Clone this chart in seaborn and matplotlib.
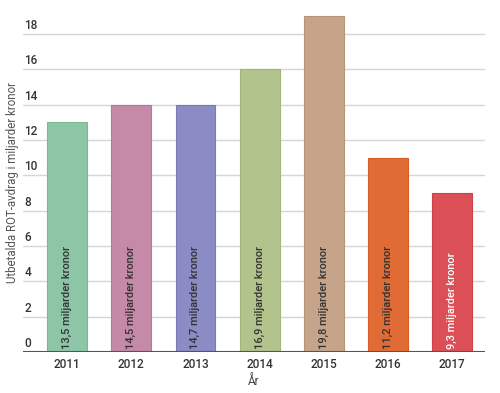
import matplotlib
matplotlib.use("Agg")
import matplotlib.pyplot as plt
import matplotlib.transforms as mtransforms
import seaborn as sns
import pandas as pd

years = ["2011", "2012", "2013", "2014", "2015", "2016", "2017"]
values = [13, 14, 14, 16, 19, 11, 9]
bar_labels = ["13,5 miljarder kronor", "14,5 miljarder kronor", "14,7 miljarder kronor",
              "16,9 miljarder kronor", "19,8 miljarder kronor", "11,2 miljarder kronor",
              "9,3 miljarder kronor"]
colors = ["#8dc6a6", "#c48aa8", "#8b8bc5", "#b2c48c", "#c5a48a", "#e06b35", "#db4f56"]
edge_colors = ["#7ab894", "#b57898", "#7a7ab8", "#a2b57a", "#b59478", "#d85c25", "#d04048"]
label_colors = ["#333333"] * 6 + ["#ffffff"]
yticks = [0, 2, 4, 6, 8, 10, 12, 14, 16, 18]

sns.set_style("white")
plt.rcParams["font.family"] = ["Roboto", "DejaVu Sans"]

df = pd.DataFrame({"year": years, "value": values})

fig = plt.figure(figsize=(5, 3.93), dpi=100)
ax = fig.add_axes([0.046, 0.1043, 0.924, 0.8827])

sns.barplot(data=df, x="year", y="value", hue="year", palette=colors,
            legend=False, width=0.62, saturation=1, ax=ax, zorder=3)
for p, ec in zip(ax.patches, edge_colors):
    p.set_edgecolor(ec)
    p.set_linewidth(0.8)

ax.set_xlim(-0.685, 6.51)
ax.set_ylim(0, 19.64)

for t in yticks:
    ax.axhline(t, color="#d6d6d6", lw=1.0, zorder=1)
ax.axhline(0, color="#555555", lw=1.5, zorder=4)

trans = mtransforms.blended_transform_factory(ax.transAxes, ax.transData)
for t in yticks:
    ax.text(0.003, t + 0.12, str(t), transform=trans, ha="left", va="bottom",
            fontsize=8.5, color="#333333", fontweight="medium")

for i, (lab, c) in enumerate(zip(bar_labels, label_colors)):
    ax.text(i, 0.15, lab, rotation=90, ha="center", va="bottom",
            fontsize=8, color=c, fontweight="medium", zorder=5)

ax.set_yticks([])
ax.set_xticks(range(len(years)))
ax.set_xticklabels(years, fontsize=8.5, color="#333333", fontweight="medium")
ax.tick_params(axis="x", length=0, pad=4)
ax.set_xlabel("År", fontsize=8.5, color="#444444", labelpad=3)
ax.set_ylabel("")
for s in ax.spines.values():
    s.set_visible(False)

fig.text(0.026, 0.535, "Utbetalda ROT-avdrag i miljarder kronor", rotation=90,
         ha="center", va="center", fontsize=8.3, color="#555555")

fig.savefig("out.png", dpi=100)
